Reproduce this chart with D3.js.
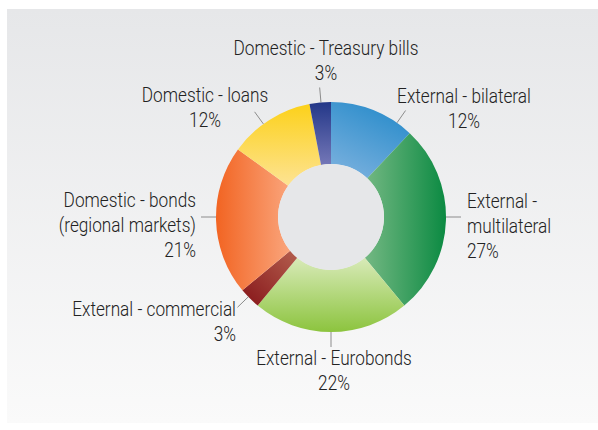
<!DOCTYPE html>
<html>
<head>
<meta charset="utf-8">
<script src="https://cdn.jsdelivr.net/npm/d3@7"></script>
<style>
  html, body { margin: 0; padding: 0; background: #ffffff; }
  svg { display: block; }
  .lbl { font-family: Roboto, "Liberation Sans", sans-serif; font-weight: 300; font-size: 20px; fill: #222222; }
</style>
</head>
<body>
<script>
// Debt composition, share of total (%), clockwise from 12 o'clock
const categories = [
  "External - bilateral",
  "External - multilateral",
  "External - Eurobonds",
  "External - commercial",
  "Domestic - bonds (regional markets)",
  "Domestic - loans",
  "Domestic - Treasury bills"
];
const shares = [12, 27, 22, 3, 21, 12, 3];

// Label lines as drawn (text split over lines; the percentage follows)
const labelLines = [
  ["External - bilateral"],
  ["External -", "multilateral"],
  ["External - Eurobonds"],
  ["External - commercial"],
  ["Domestic - bonds", "(regional markets)"],
  ["Domestic - loans"],
  ["Domestic - Treasury bills"]
];

// Slice gradients: [start colour, end colour, x1, y1, x2, y2]
const sliceGradients = [
  ["#2c8dcb", "#7db2df", 0.6, 0.0, 0.1, 1.0],
  ["#74b883", "#0b8a42", 0.0, 0.5, 1.0, 0.5],
  ["#d8eab8", "#8cc43e", 0.5, 0.0, 0.5, 1.0],
  ["#b45f4e", "#861519", 1.0, 0.0, 0.0, 1.0],
  ["#f26422", "#faa57c", 0.0, 0.5, 1.0, 0.5],
  ["#fcd11a", "#fde393", 0.5, 0.0, 0.5, 1.0],
  ["#233788", "#7477b7", 0.5, 0.0, 0.5, 1.0]
];

// Label layout: leader angle (deg from top), text anchor point and alignment
const labelLayout = [
  { ang: 35,  x: 464, y: 103, anchor: "middle" },
  { ang: 90,  x: 467, y: 208, anchor: "start" },
  { ang: 180, x: 334, y: 365, anchor: "middle" },
  { ang: 226, x: 236, y: 316, anchor: "end" },
  { ang: 270, x: 196, y: 207, anchor: "end" },
  { ang: -36, x: 205, y: 102, anchor: "middle" },
  { ang: -5,  x: 326, y: 55,  anchor: "middle" }
];

const W = 598, H = 430;
const cx = 331, cy = 217, rOuter = 115, rInner = 53;
const lineGap = 25;
const refLabelWidth = 185; // drawn width of the widest single-line label

const svg = d3.select("body").append("svg")
  .attr("width", W).attr("height", H);

const defs = svg.append("defs");

// Panel background
const bg = defs.append("linearGradient").attr("id", "panelGrad")
  .attr("x1", 0).attr("y1", 0).attr("x2", 0).attr("y2", 1);
bg.append("stop").attr("offset", "0%").attr("stop-color", "#e6e7e9");
bg.append("stop").attr("offset", "100%").attr("stop-color", "#fafafa");

svg.append("rect")
  .attr("x", 7).attr("y", 9).attr("width", 591).attr("height", 414)
  .attr("fill", "url(#panelGrad)");

sliceGradients.forEach((g, i) => {
  const lg = defs.append("linearGradient").attr("id", "slice" + i)
    .attr("x1", g[2]).attr("y1", g[3]).attr("x2", g[4]).attr("y2", g[5]);
  lg.append("stop").attr("offset", "0%").attr("stop-color", g[0]);
  lg.append("stop").attr("offset", "100%").attr("stop-color", g[1]);
});

const pie = d3.pie().value(d => d).sort(null);
const arc = d3.arc().innerRadius(rInner).outerRadius(rOuter);
const arcs = pie(shares);

const g = svg.append("g").attr("transform", `translate(${cx},${cy})`);

g.selectAll("path.slice")
  .data(arcs)
  .join("path")
  .attr("class", "slice")
  .attr("d", arc)
  .attr("fill", (d, i) => `url(#slice${i})`);

// Hole
g.append("circle").attr("r", rInner).attr("fill", "#e6e7e9");

// Leader lines
const rad = deg => deg * Math.PI / 180;
g.selectAll("line.leader")
  .data(labelLayout)
  .join("line")
  .attr("class", "leader")
  .attr("x1", d => rOuter * Math.sin(rad(d.ang)))
  .attr("y1", d => -rOuter * Math.cos(rad(d.ang)))
  .attr("x2", d => (rOuter + 15) * Math.sin(rad(d.ang)))
  .attr("y2", d => -(rOuter + 15) * Math.cos(rad(d.ang)))
  .attr("stroke", "#8c8c8c")
  .attr("stroke-width", 1);

// Condensed look: measure the widest label once and squeeze all text horizontally
const probe = svg.append("text").attr("class", "lbl").text(labelLines[6][0]);
const sx = Math.min(1, refLabelWidth / probe.node().getComputedTextLength());
probe.remove();

// Labels
const fmt = v => v + "%";
labelLayout.forEach((L, i) => {
  const lines = labelLines[i].concat([fmt(shares[i])]);
  const t = svg.append("text")
    .attr("class", "lbl")
    .attr("text-anchor", L.anchor)
    .attr("transform", `translate(${L.x},${L.y}) scale(${sx},1)`);
  lines.forEach((s, k) => {
    t.append("tspan").attr("x", 0).attr("y", k * lineGap).text(s);
  });
});
</script>
</body>
</html>
